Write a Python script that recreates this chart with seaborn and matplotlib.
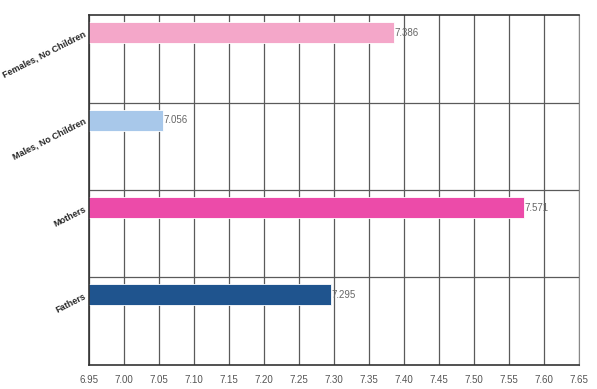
import matplotlib
matplotlib.use("Agg")
import matplotlib.pyplot as plt
import pandas as pd
import seaborn as sns

# chart values
groups = ["Females, No Children", "Males, No Children", "Mothers", "Fathers"]
scores = [7.386, 7.056, 7.571, 7.295]
bar_colors = ["#F4A7C9", "#A8C8EA", "#EC4BA9", "#1F548E"]
x_ticks = [6.95, 7.00, 7.05, 7.10, 7.15, 7.20, 7.25, 7.30, 7.35, 7.40, 7.45, 7.50, 7.55, 7.60, 7.65]

df = pd.DataFrame({"group": groups, "score": scores})

sns.set_style("white")
plt.rcParams["font.family"] = ["Liberation Sans", "DejaVu Sans"]

fig = plt.figure(figsize=(5.97, 3.89), dpi=100)
ax = fig.add_axes([0.149, 0.062, 0.821, 0.899])

sns.barplot(data=df, y="group", x="score", hue="group", palette=bar_colors,
            orient="h", width=0.24, legend=False, ax=ax, saturation=1,
            edgecolor="white", linewidth=0.6)

ax.set_xlim(6.95, 7.65)
ax.set_ylim(3.8, -0.2)
ax.set_xticks(x_ticks)
ax.set_xticklabels([f"{t:.2f}" for t in x_ticks], fontsize=7, color="#555555")
ax.set_yticks(range(len(groups)))
ax.set_yticklabels(groups, fontsize=6.5, fontweight="bold", rotation=27,
                   ha="right", rotation_mode="anchor")
ax.set_yticks([0.8, 1.8, 2.8], minor=True)
ax.tick_params(axis="y", which="both", length=0, pad=3)
ax.tick_params(axis="x", length=3, color="#333333", pad=4)

ax.grid(axis="x", color="#5a5a5a", linewidth=0.9)
ax.grid(axis="y", which="minor", color="#5a5a5a", linewidth=0.9)
ax.set_axisbelow(True)
ax.set_xlabel("")
ax.set_ylabel("")

for side in ["left", "bottom", "top"]:
    ax.spines[side].set_color("#333333")
    ax.spines[side].set_linewidth(1.2)
ax.spines["right"].set_color("#888888")

for i, v in enumerate(scores):
    ax.text(v + 0.001, i, f"{v:.3f}", fontsize=7, color="#666666",
            va="center", ha="left")

fig.savefig("out.png", dpi=100)
